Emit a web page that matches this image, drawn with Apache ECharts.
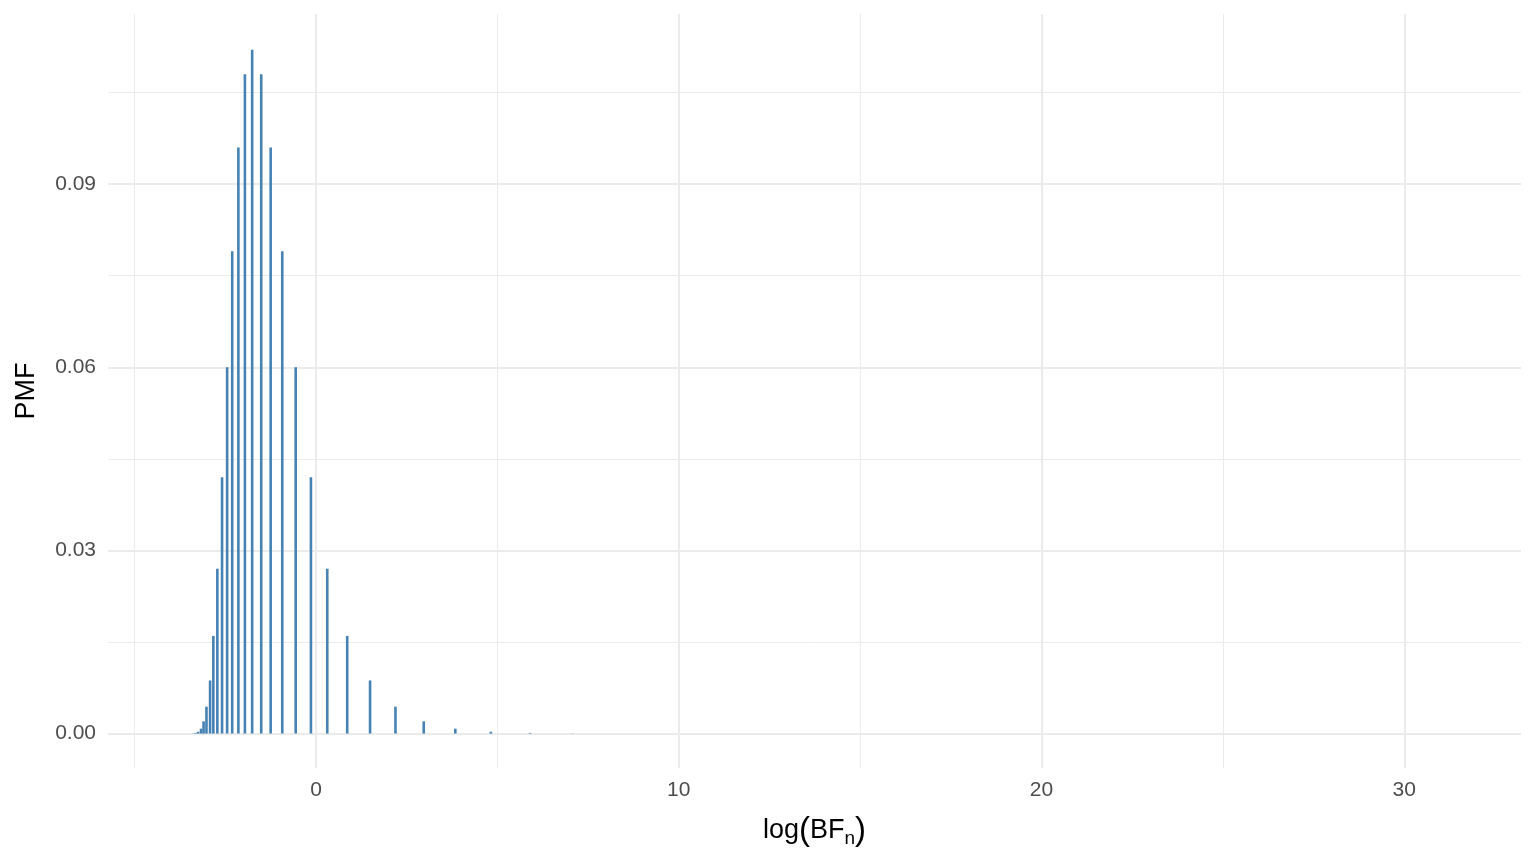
<!DOCTYPE html>
<html>
<head>
<meta charset="utf-8">
<script src="https://cdn.jsdelivr.net/npm/echarts@6/dist/echarts.min.js"></script>
<style>
  html, body { margin: 0; padding: 0; background: #fff; }
  #chart { width: 1536px; height: 864px; }
</style>
</head>
<body>
<div id="chart"></div>
<script>
// log Bayes factor at each support point
const logBF = [
  -3.39, -3.32, -3.25, -3.17, -3.10, -3.02, -2.92, -2.83, -2.72, -2.59,
  -2.45, -2.31, -2.14, -1.96, -1.76, -1.51, -1.25, -0.93, -0.56, -0.14,
  0.31, 0.86, 1.49, 2.19, 2.97, 3.84, 4.82, 5.90, 7.07
]
// probability mass at each point
const pmf = [
  0.00003, 0.0001, 0.0003, 0.0008, 0.002, 0.0044, 0.0087, 0.016, 0.027, 0.042,
  0.060, 0.079, 0.096, 0.108, 0.112, 0.108, 0.096, 0.079, 0.060, 0.042,
  0.027, 0.016, 0.0087, 0.0044, 0.002, 0.0008, 0.0003, 0.0001, 0.00003
]
// axis ranges (ggplot default 5% expansion)
const xRange = [-5.734, 33.217]
const yRange = [-0.00564, 0.11786]

const gridColor = '#EBEBEB'
const font = 'Liberation Sans, Arial, sans-serif'

const chart = echarts.init(document.getElementById('chart'), null, { renderer: 'canvas' })

chart.setOption({
  animation: false,
  backgroundColor: '#ffffff',
  grid: { left: 108, right: 15, top: 14, bottom: 96, containLabel: false },
  xAxis: {
    type: 'value',
    min: xRange[0],
    max: xRange[1],
    splitNumber: 4,
    minInterval: 10,
    maxInterval: 10,
    axisLine: { show: false },
    axisTick: { show: false },
    minorTick: { show: false, splitNumber: 2 },
    axisLabel: {
      showMinLabel: false,
      showMaxLabel: false,
      color: '#4D4D4D',
      fontFamily: font,
      fontSize: 21,
      margin: 12
    },
    splitLine: {
      show: true,
      showMinLine: false,
      showMaxLine: false,
      lineStyle: { color: gridColor, width: 2 }
    },
    minorSplitLine: { show: true, lineStyle: { color: gridColor, width: 1 } },
    name: '{t|log}{p|(}{t|BF}{s|n}{p|)}',
    nameLocation: 'middle',
    nameGap: 45,
    nameTextStyle: {
      rich: {
        t: { fontFamily: font, fontSize: 27, color: '#000', verticalAlign: 'middle' },
        p: { fontFamily: font, fontSize: 33, color: '#000', verticalAlign: 'middle' },
        s: { fontFamily: font, fontSize: 19, color: '#000', verticalAlign: 'bottom', padding: [16, 0, 0, 0] }
      }
    }
  },
  yAxis: {
    type: 'value',
    min: yRange[0],
    max: yRange[1],
    splitNumber: 4,
    minInterval: 0.03,
    maxInterval: 0.03,
    axisLine: { show: false },
    axisTick: { show: false },
    minorTick: { show: false, splitNumber: 2 },
    axisLabel: {
      showMinLabel: false,
      showMaxLabel: false,
      color: '#4D4D4D',
      fontFamily: font,
      fontSize: 21,
      margin: 12,
      formatter: v => v.toFixed(2)
    },
    splitLine: {
      show: true,
      showMinLine: false,
      showMaxLine: false,
      lineStyle: { color: gridColor, width: 2 }
    },
    minorSplitLine: { show: true, lineStyle: { color: gridColor, width: 1 } },
    name: 'PMF',
    nameLocation: 'middle',
    nameRotate: 90,
    nameGap: 68,
    nameTextStyle: { fontFamily: font, fontSize: 27, color: '#000' }
  },
  series: [
    {
      type: 'bar',
      barWidth: 2.6,
      itemStyle: { color: '#4682B4' },
      data: logBF.map((x, i) => [x, pmf[i]])
    }
  ]
})
</script>
</body>
</html>
